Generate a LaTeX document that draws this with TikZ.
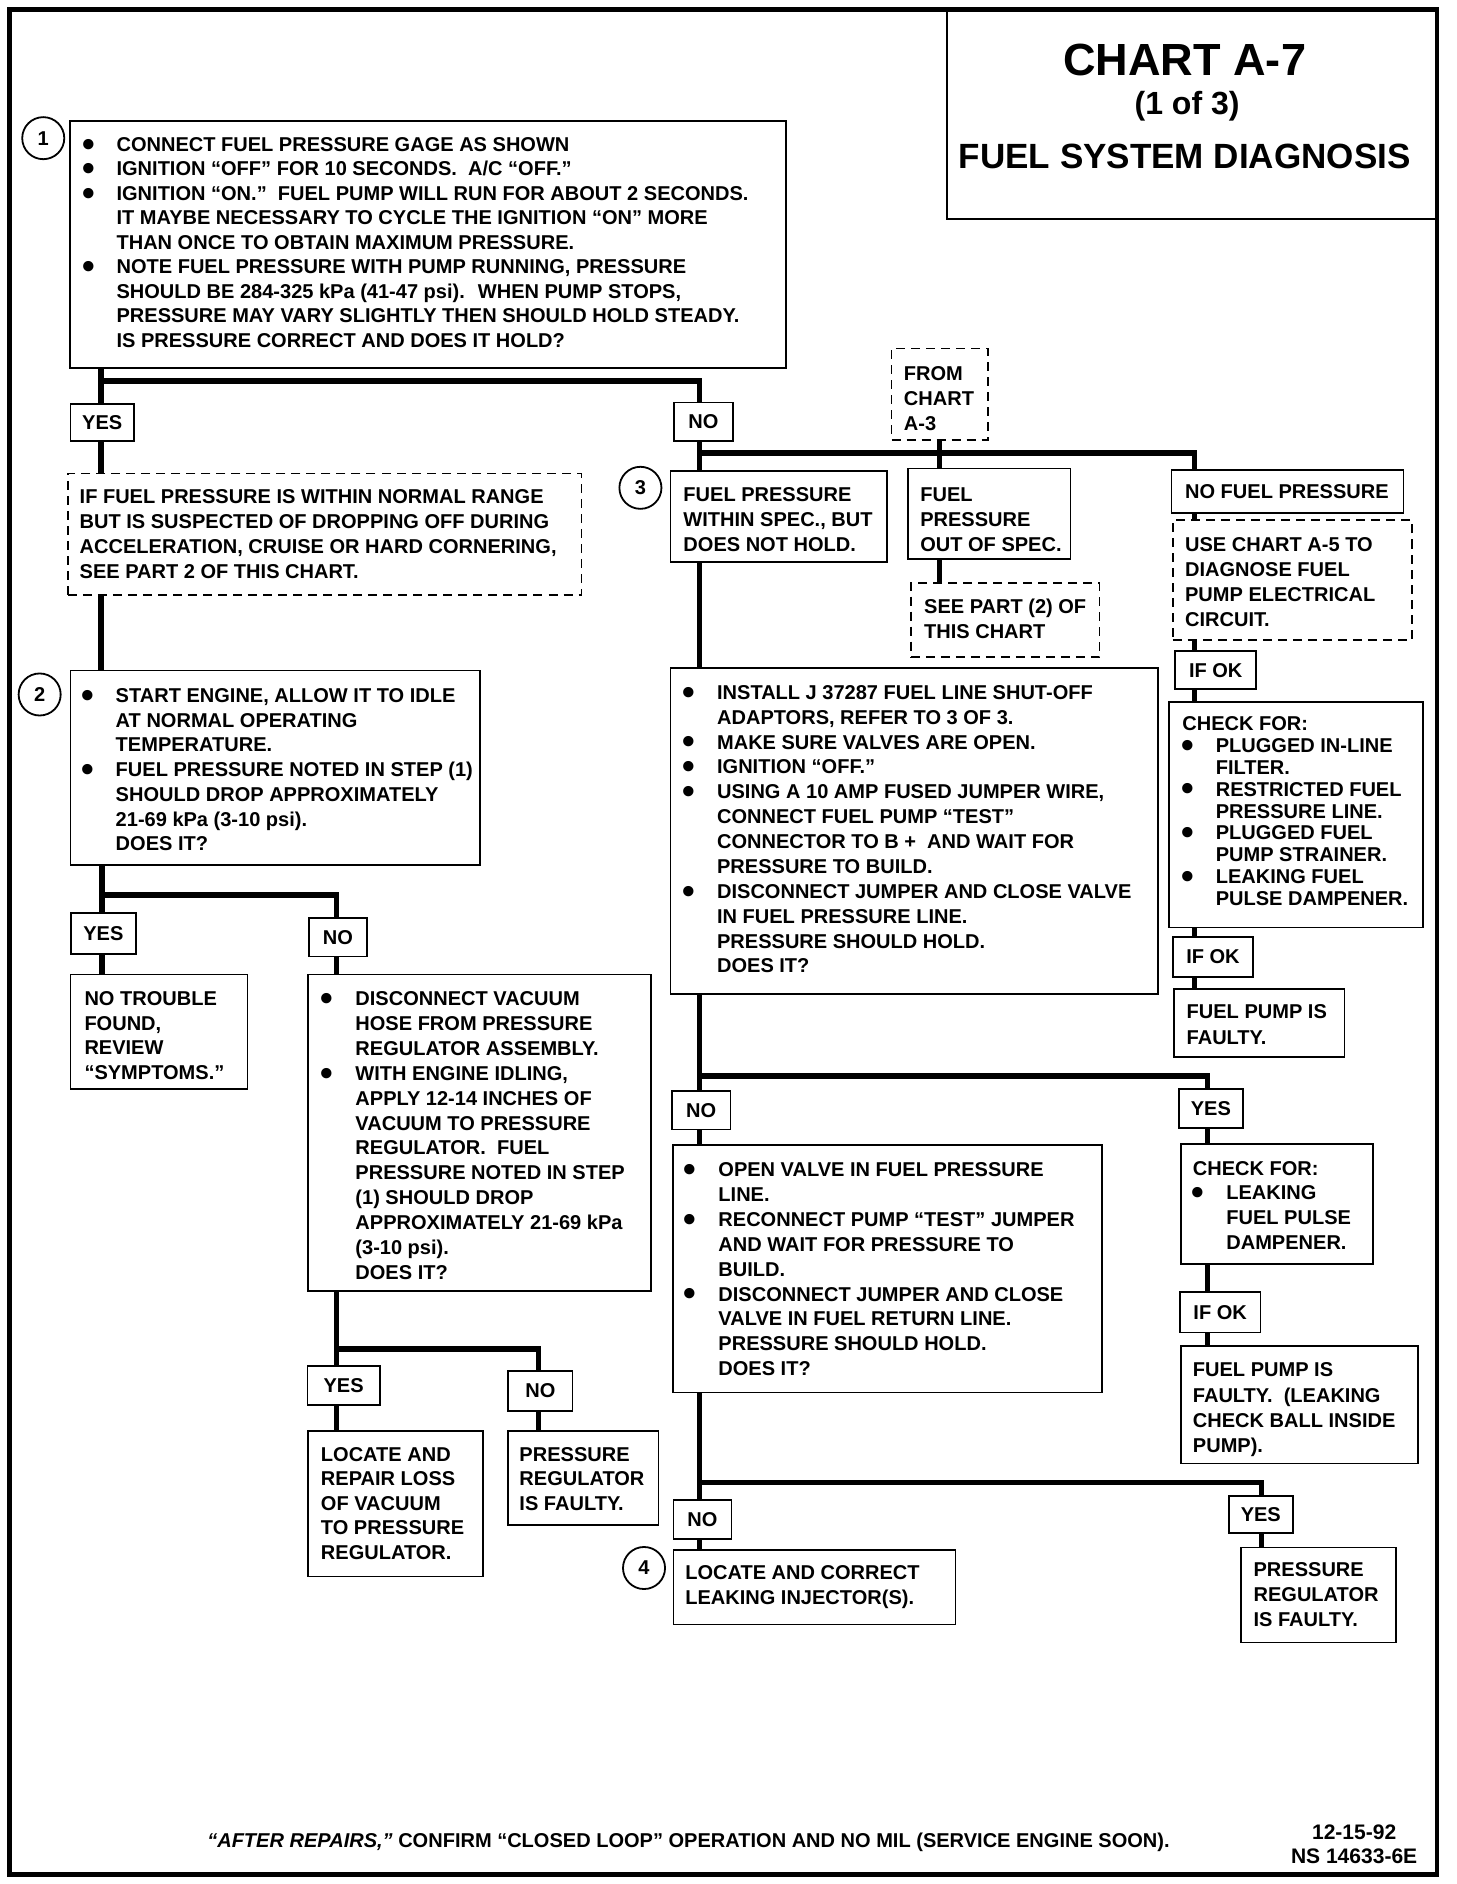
\documentclass[tikz,border=0pt]{standalone}
\usepackage{fontspec}
\setmainfont{Liberation Sans}
\usepackage{graphicx}
\usetikzlibrary{fit,calc}
\newcommand\bigbul{\raisebox{-2.4pt}{\scalebox{1.8}{\textbullet}}}
\newcommand\bl{\smash{\llap{\makebox[0pt][c]{\bigbul}\hspace{14.1pt}}}}
\newcommand\ind{\hspace*{16.7pt}}
% text block: name, x, y(baseline of first line), pitch(pt), lines
\newcommand\T[5]{\node[txt] (#1) at (#2,#3) {\fontsize{10}{#4}\selectfont\begin{tabular}[t]{@{}l@{}}#5\end{tabular}};}
% box: [style] name x1 y1 x2 y2
\newcommand\B[6][box]{\node[#1, fit={(#3,#4) (#5,#6)}] (#2) {};}
% label: name x1 y1 x2 y2 text
\newcommand\Lb[6]{\node[box, fit={(#2,#3) (#4,#5)}] (#1) {};
  \node[labt] (#1t) at (#1.center) {#6};}
\tikzset{
  box/.style={draw, line width=0.9pt, inner sep=0pt},
  dbox/.style={box, dash pattern=on 4.5pt off 3pt},
  labt/.style={inner sep=0pt, anchor=center, font=\bfseries\fontsize{10}{12}\selectfont},
  conn/.style={line width=2.7pt},
  txt/.style={inner sep=0pt, anchor=base west, font=\bfseries},
  circ/.style={circle, draw, line width=0.9pt, minimum size=21pt, inner sep=0pt, font=\bfseries\fontsize{10}{12}\selectfont},
  ttl/.style={inner sep=0pt, anchor=base}
}
\begin{document}
\begin{tikzpicture}[x=0.6pt,y=-0.6pt]
\useasboundingbox (0,0) rectangle (1212,1568);
\fill[white] (0,0) rectangle (1212,1568);
\draw[line width=2.2pt] (8,8) rectangle (1196,1560);

% title
\B{title}{788}{8}{1196}{182}
\node[ttl, font=\bfseries\fontsize{22.5}{27}\selectfont] (t1) at (986,62.8) {CHART A-7};
\node[ttl, font=\bfseries\fontsize{16}{19}\selectfont] (t2) at (988,95) {(1 of 3)};
\node[ttl, font=\bfseries\fontsize{17.5}{21}\selectfont] (t3) at (986,140.5) {FUEL SYSTEM DIAGNOSIS};

% step 1
\node[circ] (c1) at (36,115) {1};
\B{b1}{58}{100.5}{654}{306.5}
\T{b1t}{96.7}{126}{12.24}{\bl CONNECT FUEL PRESSURE GAGE AS SHOWN\\
\bl IGNITION “OFF” FOR 10 SECONDS.~ A/C “OFF.”\\
\bl IGNITION “ON.”~ FUEL PUMP WILL RUN FOR ABOUT 2 SECONDS.\\
IT MAYBE NECESSARY TO CYCLE THE IGNITION “ON” MORE\\
THAN ONCE TO OBTAIN MAXIMUM PRESSURE.\\
\bl NOTE FUEL PRESSURE WITH PUMP RUNNING, PRESSURE\\
SHOULD BE 284-325 kPa (41-47 psi).~ WHEN PUMP STOPS,\\
PRESSURE MAY VARY SLIGHTLY THEN SHOULD HOLD STEADY.\\
IS PRESSURE CORRECT AND DOES IT HOLD?}

\Lb{yes1}{58.7}{336}{111.5}{367}{YES}
\Lb{no1}{561}{335}{610}{367}{NO}

% left branch
\B[dbox]{d1}{56.5}{394}{484}{495}
\T{d1t}{66}{419.4}{12.42}{IF FUEL PRESSURE IS WITHIN NORMAL RANGE\\
BUT IS SUSPECTED OF DROPPING OFF DURING\\
ACCELERATION, CRUISE OR HARD CORNERING,\\
SEE PART 2 OF THIS CHART.}

\node[circ] (c2) at (33,578) {2};
\B{b2}{58.7}{558}{399.5}{720}
\T{b2t}{96}{584.5}{12.36}{\bl START ENGINE, ALLOW IT TO IDLE\\
AT NORMAL OPERATING\\
TEMPERATURE.\\
\bl FUEL PRESSURE NOTED IN STEP (1)\\
SHOULD DROP APPROXIMATELY\\
21-69 kPa (3-10 psi).\\
DOES IT?}

\Lb{yes2}{59}{760}{113}{794}{YES}
\Lb{no2}{257}{764}{305.5}{796}{NO}

\B{ntf}{58.7}{811}{206}{906.5}
\T{ntft}{70}{837}{12.3}{NO TROUBLE\\ FOUND,\\ REVIEW\\ “SYMPTOMS.”}

\B{vac}{256.4}{811}{542}{1074.5}
\T{vact}{295.5}{837}{12.42}{\bl DISCONNECT VACUUM\\
HOSE FROM PRESSURE\\
REGULATOR ASSEMBLY.\\
\bl WITH ENGINE IDLING,\\
APPLY 12-14 INCHES OF\\
VACUUM TO PRESSURE\\
REGULATOR.~ FUEL\\
PRESSURE NOTED IN STEP\\
(1) SHOULD DROP\\
APPROXIMATELY 21-69 kPa\\
(3-10 psi).\\
DOES IT?}

\Lb{yes3}{256}{1137}{316}{1169}{YES}
\Lb{no3}{423}{1141}{476.5}{1174.5}{NO}

\B{lrl}{256.4}{1191}{402}{1312}
\T{lrlt}{266.8}{1216}{12.3}{LOCATE AND\\ REPAIR LOSS\\ OF VACUUM\\ TO PRESSURE\\ REGULATOR.}
\B{prf}{423}{1191}{548}{1269.5}
\T{prft}{432}{1216}{12.3}{PRESSURE\\ REGULATOR\\ IS FAULTY.}

% right branch
\B[dbox]{from}{742}{290}{822}{366}
\T{fromt}{752}{316.5}{12.54}{FROM\\ CHART\\ A-3}

\node[circ] (c3) at (533,406) {3};
\B{fpws}{558}{392}{738}{468}
\T{fpwst}{568.5}{417}{12.48}{FUEL PRESSURE\\ WITHIN SPEC., BUT\\ DOES NOT HOLD.}
\B{fpoos}{756}{390}{891}{465}
\T{fpoost}{765.6}{417}{12.48}{FUEL\\ PRESSURE\\ OUT OF SPEC.}
\B[dbox]{seep}{758}{485}{915}{547}
\T{seept}{768.8}{511}{12.3}{SEE PART (2) OF\\ THIS CHART}

\B{nofp}{975}{391}{1168}{427}
\T{nofpt}{986}{415}{12.3}{NO FUEL PRESSURE}
\B[dbox]{usec}{976}{433}{1175}{532.5}
\T{usect}{986}{459.4}{12.36}{USE CHART A-5 TO\\ DIAGNOSE FUEL\\ PUMP ELECTRICAL\\ CIRCUIT.}
\Lb{ifok1}{978}{542}{1045.6}{573.5}{IF OK}
\B{chk}{973}{584.5}{1184}{772}
\T{chkt}{983.7}{608}{10.92}{CHECK FOR:\\
\ind\bl PLUGGED IN-LINE\\
\ind FILTER.\\
\ind\bl RESTRICTED FUEL\\
\ind PRESSURE LINE.\\
\ind\bl PLUGGED FUEL\\
\ind PUMP STRAINER.\\
\ind\bl LEAKING FUEL\\
\ind PULSE DAMPENER.}
\Lb{ifok2}{976}{779.6}{1043}{813}{IF OK}
\B{fpf}{977}{823}{1119}{880}
\T{fpft}{987.3}{848}{12.6}{FUEL PUMP IS\\ FAULTY.}

\B{inst}{558}{556}{964}{827}
\T{instt}{596.5}{582}{12.42}{\bl INSTALL J 37287 FUEL LINE SHUT-OFF\\
ADAPTORS, REFER TO 3 OF 3.\\
\bl MAKE SURE VALVES ARE OPEN.\\
\bl IGNITION “OFF.”\\
\bl USING A 10 AMP FUSED JUMPER WIRE,\\
CONNECT FUEL PUMP “TEST”\\
CONNECTOR TO B +~ AND WAIT FOR\\
PRESSURE TO BUILD.\\
\bl DISCONNECT JUMPER AND CLOSE VALVE\\
IN FUEL PRESSURE LINE.\\
PRESSURE SHOULD HOLD.\\
DOES IT?}

\Lb{no5}{559}{908}{608}{940}{NO}
\Lb{yes5}{981}{906.6}{1034.5}{939}{YES}

\B{ov}{560}{953}{917}{1159}
\T{ovt}{597.6}{979.3}{12.42}{\bl OPEN VALVE IN FUEL PRESSURE\\
LINE.\\
\bl RECONNECT PUMP “TEST” JUMPER\\
AND WAIT FOR PRESSURE TO\\
BUILD.\\
\bl DISCONNECT JUMPER AND CLOSE\\
VALVE IN FUEL RETURN LINE.\\
PRESSURE SHOULD HOLD.\\
DOES IT?}

\B{chl}{983}{952}{1143}{1052}
\T{chlt}{992.5}{978}{12.36}{CHECK FOR:\\
\ind\bl LEAKING\\
\ind FUEL PULSE\\
\ind DAMPENER.}
\Lb{ifok3}{982}{1075.6}{1049}{1109}{IF OK}
\B{fpfl}{983}{1120.5}{1180}{1218}
\T{fpflt}{992.5}{1146}{12.6}{FUEL PUMP IS\\ FAULTY.~ (LEAKING\\ CHECK BALL INSIDE\\ PUMP).}

\Lb{no6}{560.5}{1248.7}{608.8}{1280.7}{NO}
\Lb{yes6}{1022.8}{1245}{1075.8}{1276}{YES}
\node[circ] (c4) at (536,1305) {4};
\B{lac}{560.5}{1290}{795.3}{1352}
\T{lact}{570}{1314.4}{12.8}{LOCATE AND CORRECT\\ LEAKING INJECTOR(S).}
\B{prf2}{1033}{1288}{1162}{1367}
\T{prf2t}{1043}{1312}{12.6}{PRESSURE\\ REGULATOR\\ IS FAULTY.}

% footer
\node[ttl, font=\bfseries\fontsize{10}{12}\selectfont] (foot) at (573,1538) {\itshape “AFTER REPAIRS,”\upshape{} CONFIRM “CLOSED LOOP” OPERATION AND NO MIL (SERVICE ENGINE SOON).};
\node[ttl, font=\bfseries\fontsize{10.5}{12}\selectfont] (date) at (1127,1531) {12-15-92};
\node[ttl, font=\bfseries\fontsize{10.5}{12}\selectfont] (ns) at (1127,1551) {NS 14633-6E};

% connectors
\coordinate (j1) at (84,317); \coordinate (j1r) at (582,317);
\draw[conn] (b1.south -| j1) -- (yes1.north -| j1);
\draw[conn] (j1) -- (j1r) -- (no1.north -| j1r);
\draw[conn] (yes1.south -| j1) -- (d1.north -| j1);
\draw[conn] (d1.south -| j1) -- (b2.north -| j1);
\coordinate (j2) at (85,745); \coordinate (j2r) at (280,745);
\draw[conn] (b2.south -| j2) -- (yes2.north -| j2);
\draw[conn] (j2) -- (j2r) -- (no2.north -| j2r);
\draw[conn] (yes2.south -| j2) -- (ntf.north -| j2);
\draw[conn] (no2.south -| j2r) -- (vac.north -| j2r);
\coordinate (j3) at (280,1122.7); \coordinate (j3r) at (448,1122.7);
\draw[conn] (vac.south -| j3) -- (yes3.north -| j3);
\draw[conn] (j3) -- (j3r) -- (no3.north -| j3r);
\draw[conn] (yes3.south -| j3) -- (lrl.north -| j3);
\draw[conn] (no3.south -| j3r) -- (prf.north -| j3r);

\coordinate (j4) at (582,377); \coordinate (j4r) at (994,377);
\draw[conn] (no1.south -| j4) -- (fpws.north -| j4);
\draw[conn] (j4) -- (j4r) -- (nofp.north -| j4r);
\draw[conn] (from.south) -- (fpoos.north -| from.south);
\draw[conn] (fpoos.south -| from.south) -- (seep.north -| from.south);
\draw[conn] (nofp.south -| j4r) -- (usec.north -| j4r);
\draw[conn] (usec.south -| j4r) -- (ifok1.north -| j4r);
\draw[conn] (ifok1.south -| j4r) -- (chk.north -| j4r);
\draw[conn] (chk.south -| j4r) -- (ifok2.north -| j4r);
\draw[conn] (ifok2.south -| j4r) -- (fpf.north -| j4r);
\draw[conn] (fpws.south -| j4) -- (inst.north -| j4);

\coordinate (j5) at (582,895.6); \coordinate (j5r) at (1005,895.6);
\draw[conn] (inst.south -| j5) -- (no5.north -| j5);
\draw[conn] (j5) -- (j5r) -- (yes5.north -| j5r);
\draw[conn] (no5.south -| j5) -- (ov.north -| j5);
\draw[conn] (yes5.south -| j5r) -- (chl.north -| j5r);
\draw[conn] (chl.south -| j5r) -- (ifok3.north -| j5r);
\draw[conn] (ifok3.south -| j5r) -- (fpfl.north -| j5r);

\coordinate (j6) at (582,1233.7); \coordinate (j6r) at (1050,1233.7);
\draw[conn] (ov.south -| j6) -- (no6.north -| j6);
\draw[conn] (j6) -- (j6r) -- (yes6.north -| j6r);
\draw[conn] (no6.south -| j6) -- (lac.north -| j6);
\draw[conn] (yes6.south -| j6r) -- (prf2.north -| j6r);
\end{tikzpicture}
\end{document}
